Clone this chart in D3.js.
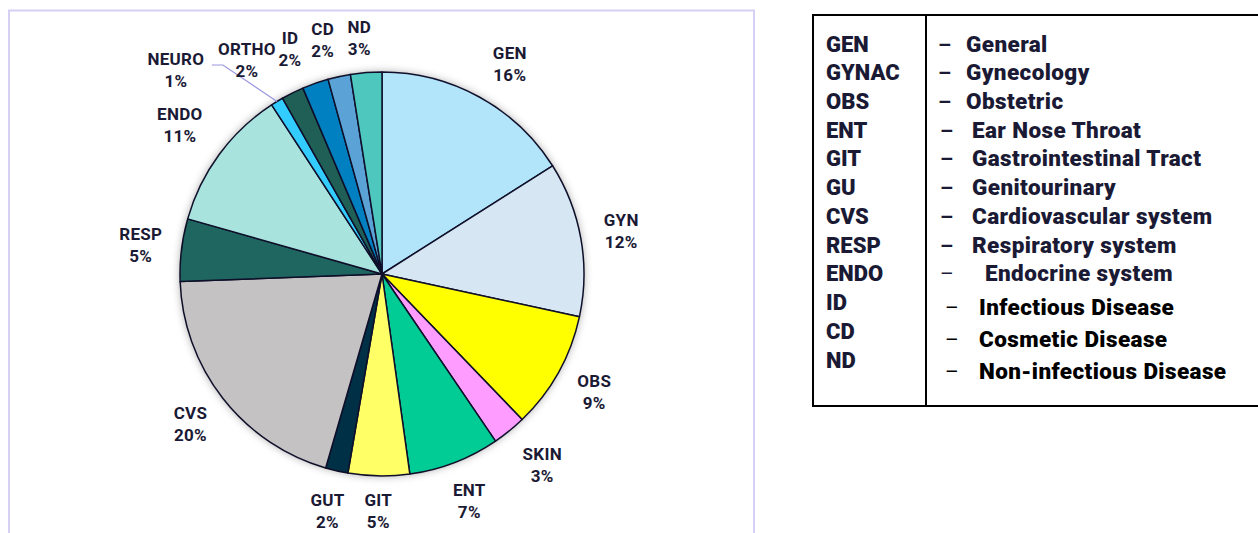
<!DOCTYPE html>
<html>
<head>
<meta charset="utf-8">
<script src="https://cdn.jsdelivr.net/npm/d3@7"></script>
<style>
  body { margin: 0; background: #fff; }
  text { font-family: Roboto, "Open Sans", sans-serif; font-weight: 900; }
</style>
</head>
<body>
<div id="chart"></div>
<script>
// slice order, clockwise from 12 o'clock
var names = ["GEN", "GYN", "OBS", "SKIN", "ENT", "GIT", "GUT", "CVS", "RESP", "ENDO", "NEURO", "ORTHO", "ID", "CD", "ND"];
var shares = [16.0, 12.4, 9.4, 2.7, 7.3, 4.9, 1.8, 19.9, 5.0, 11.4, 1.0, 1.8, 2.1, 1.8, 2.5];
var colors = ["#b2e4fa", "#d6e7f3", "#ffff00", "#ff9cff", "#02cc96", "#ffff66", "#003045", "#c4c2c3",
              "#1f6660", "#a8e3dd", "#33ccff", "#1f5f55", "#0080c0", "#5ba3d6", "#4ec8bf"];

var legendCodes = ["GEN", "GYNAC", "OBS", "ENT", "GIT", "GU", "CVS", "RESP", "ENDO", "ID", "CD", "ND"];
var legendNames = ["General", "Gynecology", "Obstetric", "Ear Nose Throat", "Gastrointestinal Tract",
                   "Genitourinary", "Cardiovascular system", "Respiratory system", "Endocrine system",
                   "Infectious Disease", "Cosmetic Disease", "Non-infectious Disease"];

var width = 1258;
var height = 533;
var ink = "#1b1a35";

var svg = d3.select("#chart").append("svg")
  .attr("width", width)
  .attr("height", height);

var defs = svg.append("defs");
var f = defs.append("filter").attr("id", "glow")
  .attr("x", "-10%").attr("y", "-10%").attr("width", "120%").attr("height", "120%");
f.append("feDropShadow")
  .attr("dx", 0).attr("dy", 0)
  .attr("stdDeviation", 4)
  .attr("flood-color", "#000")
  .attr("flood-opacity", 0.35);

// chart area frame
svg.append("rect")
  .attr("x", 9).attr("y", 10.5)
  .attr("width", 745).attr("height", 540)
  .attr("fill", "none")
  .attr("stroke", "#d6d0f5")
  .attr("stroke-width", 2);

var cx = 382, cy = 274, r = 202;

var pie = d3.pie().sort(null).value((d) => d.v);
var data = pie(names.map((n, i) => ({ name: n, v: shares[i], color: colors[i] })));

var arc = d3.arc().innerRadius(0).outerRadius(r);
var labelR = 243;

var g = svg.append("g").attr("transform", `translate(${cx},${cy})`);

g.append("circle").attr("r", r).attr("fill", "#fff").attr("filter", "url(#glow)");

g.selectAll("path.slice")
  .data(data)
  .enter()
  .append("path")
  .attr("class", "slice")
  .attr("d", arc)
  .attr("fill", (d) => d.data.color)
  .attr("stroke", "#0f0f2a")
  .attr("stroke-width", 1.5)
  .attr("stroke-linejoin", "round");

// crowded labels get pushed round a little: [degrees, px]
var nudge = { GEN: [2.5, 3], ORTHO: [-6, 10], ID: [-3, 0], CD: [-2, -2], ND: [-1, -6], GIT: [0, -6], SKIN: [-1, 6], ENDO: [0, 8] };
// NEURO label is pulled out with a leader line, like the original
var pulled = { name: "NEURO", angle: -45.3, dist: 290 };

function polar(a, dist) {
  return [Math.sin(a) * dist, -Math.cos(a) * dist];
}

data.forEach((d) => {
  var mid = (d.startAngle + d.endAngle) / 2;
  var p;
  if (d.data.name === pulled.name) {
    p = polar((pulled.angle * Math.PI) / 180, pulled.dist);
    var edge = polar(mid, r);
    g.append("polyline")
      .attr("points", [[p[0] + 36, p[1] - 5], [p[0] + 47, p[1] - 5], edge].map((q) => q.join(",")).join(" "))
      .attr("fill", "none")
      .attr("stroke", "#9b97e0")
      .attr("stroke-width", 1.2);
  } else {
    var n = nudge[d.data.name] || [0, 0];
    p = polar(mid + (n[0] * Math.PI) / 180, labelR + n[1]);
  }
  var t = g.append("text")
    .attr("text-anchor", "middle")
    .attr("fill", ink)
    .style("font-size", "17px")
    .style("font-weight", "bold")
    .style("letter-spacing", "0.3px");
  t.append("tspan").attr("x", p[0]).attr("y", p[1] - 5).text(d.data.name);
  t.append("tspan").attr("x", p[0]).attr("y", p[1] + 17).text(Math.round(d.data.v) + "%");
});

// abbreviations table
var lg = svg.append("g");
lg.append("rect")
  .attr("x", 813).attr("y", 15)
  .attr("width", 460).attr("height", 391)
  .attr("fill", "#fff")
  .attr("stroke", "#000")
  .attr("stroke-width", 2);
lg.append("line")
  .attr("x1", 926).attr("x2", 926)
  .attr("y1", 15).attr("y2", 406)
  .attr("stroke", "#000")
  .attr("stroke-width", 2);

var rowY = d3.scaleLinear().domain([0, 11]).range([51.5, 367.5]);

lg.selectAll("text.code")
  .data(legendCodes)
  .enter()
  .append("text")
  .attr("class", "code")
  .attr("x", 826)
  .attr("y", (d, i) => rowY(i))
  .attr("fill", ink)
  .style("font-size", "22px")
  .text((d) => d);

// the right column drifts a little in the original
function descPos(i) {
  if (i < 3) return { dash: 938, text: 966, y: rowY(i), c: ink };
  if (i < 8) return { dash: 940, text: 972, y: rowY(i), c: ink };
  if (i === 8) return { dash: 940, text: 985, y: rowY(i), c: ink };
  return { dash: 945, text: 979, y: 315 + (i - 9) * 32.2, c: "#000" };
}

legendNames.forEach((n, i) => {
  var p = descPos(i);
  lg.append("text")
    .attr("x", p.dash).attr("y", p.y)
    .attr("fill", p.c)
    .style("font-size", "21px")
    .style("font-weight", i >= 8 ? "normal" : "bold")
    .text("–");
  lg.append("text")
    .attr("x", p.text).attr("y", p.y)
    .attr("fill", p.c)
    .style("font-size", "22.5px")
    .style("letter-spacing", "0.4px")
    .text(n);
});
</script>
</body>
</html>
